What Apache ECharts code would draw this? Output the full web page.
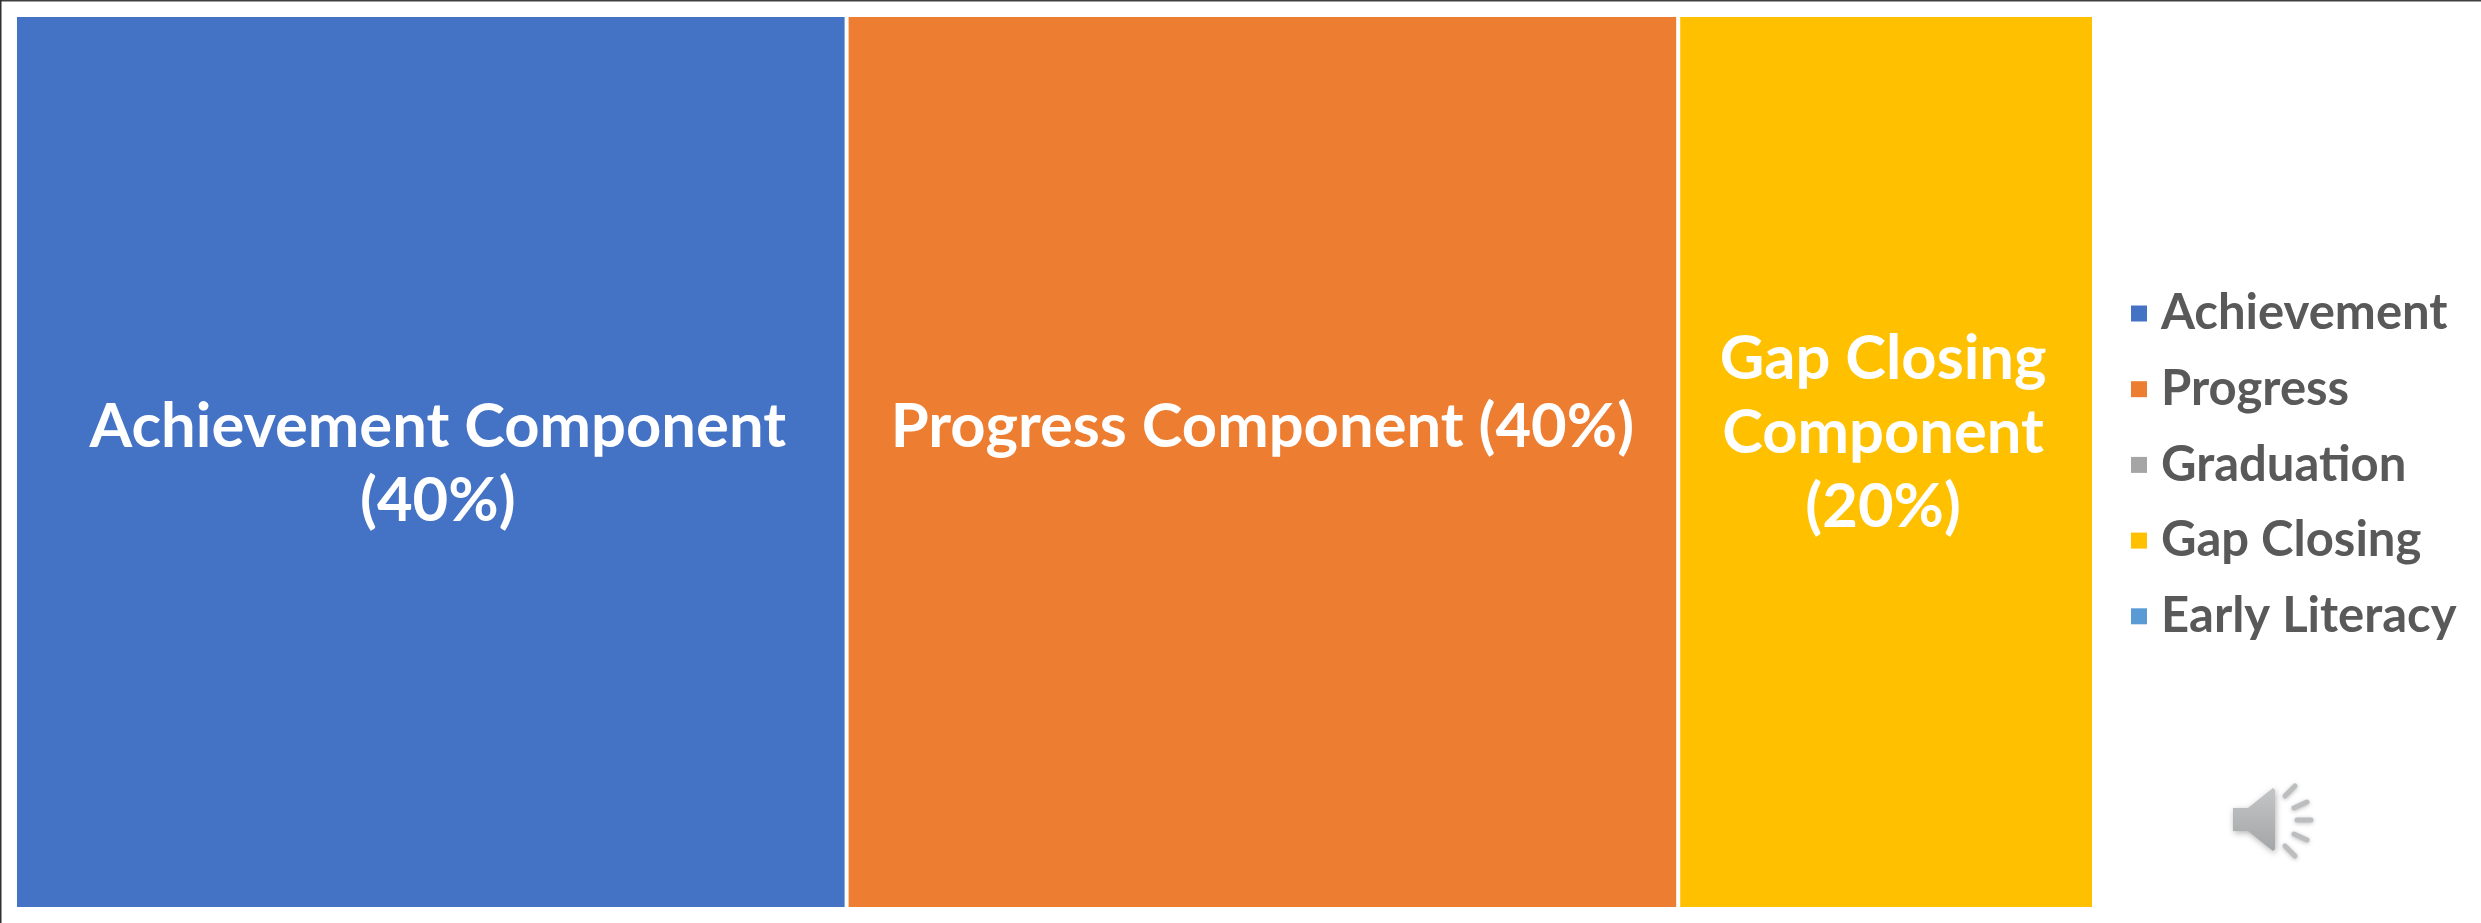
<!DOCTYPE html>
<html><head><meta charset="utf-8">
<style>html,body{margin:0;padding:0;background:#fff}#c{width:2481px;height:923px}</style>
<script src="https://cdn.jsdelivr.net/npm/echarts@6/dist/echarts.min.js"></script>
</head><body><div id="c"></div>
<script>
const blockLabels = ["Achievement Component\n(40%)", "Progress Component (40%)\n", "Gap Closing\nComponent\n(20%)\n"];
const blockValues = [40, 40, 20];
const blockColors = ["#4472C4", "#ED7D31", "#FFC000"];
const legendNames = ["Achievement", "Progress", "Graduation", "Gap Closing", "Early Literacy"];
const legendValues = [40, 40, 0, 20, 0];
const legendColors = ["#4472C4", "#ED7D31", "#A5A5A5", "#FFC000", "#5B9BD5"];
const font = "Lato, Carlito, 'Open Sans', sans-serif";
const chart = echarts.init(document.getElementById('c'), null, {renderer:'canvas'});
const labelNudges = [[7,2],[0,2],[-3,8]];
const dashes = [[2285,796,2295,786],[2294,808,2307,802],[2297,820,2311,820],[2294,834,2307,840],[2285,846,2295,856]];
chart.setOption({
  animation:false,
  backgroundColor:'#fff',
  legend:{
    orient:'vertical', left:2126, top:284,
    icon:'rect', itemWidth:16, itemHeight:16, itemGap:26.7,
    selectedMode:false,
    data:legendNames,
    textStyle:{fontFamily:font,fontWeight:700,fontSize:49,color:'#595959',padding:[0,0,0,9]}
  },
  series:[
    {type:'pie',radius:[0,0],center:[2300,500],silent:true,label:{show:false},labelLine:{show:false},
     data:legendNames.map((n,i)=>({name:n,value:legendValues[i],itemStyle:{color:legendColors[i]}}))},
    {type:'treemap',left:17,top:17,width:2075,height:890,roam:false,nodeClick:false,sort:false,
     breadcrumb:{show:false},
     itemStyle:{gapWidth:4,borderWidth:0},
     label:{show:true,position:'inside',align:'center',verticalAlign:'middle',
       formatter:p=>p.name,
       fontFamily:font,fontWeight:700,fontSize:61.5,lineHeight:74,color:'#fff',overflow:'none'},
     data:blockLabels.map((n,i)=>({name:n,value:blockValues[i],itemStyle:{color:blockColors[i]},label:{offset:labelNudges[i]}}))}
  ],
  graphic:{elements:[
    {type:'rect',silent:true,shape:{x:0,y:0,width:2481,height:1.5},style:{fill:'#404040'}},
    {type:'rect',silent:true,shape:{x:0,y:0,width:1.5,height:923},style:{fill:'#303030'}},
    {type:'polygon',silent:true,shape:{points:[[2233,808],[2248,808],[2273,788],[2275,790],[2275,849],[2273,851],[2248,831],[2233,831]]},
     style:{fill:new echarts.graphic.LinearGradient(0,0,0,1,[{offset:0,color:'#c4c5c7'},{offset:1,color:'#a4a5a7'}]),shadowBlur:6,shadowColor:'rgba(0,0,0,0.3)',shadowOffsetY:2,shadowOffsetX:1}},
    ...dashes.map(d=>({type:'line',silent:true,shape:{x1:d[0],y1:d[1],x2:d[2],y2:d[3]},
      style:{stroke:'#bcbdbf',lineWidth:5,lineCap:'round',shadowBlur:4,shadowColor:'rgba(0,0,0,0.25)',shadowOffsetY:1}}))
  ]}
});
</script></body></html>
